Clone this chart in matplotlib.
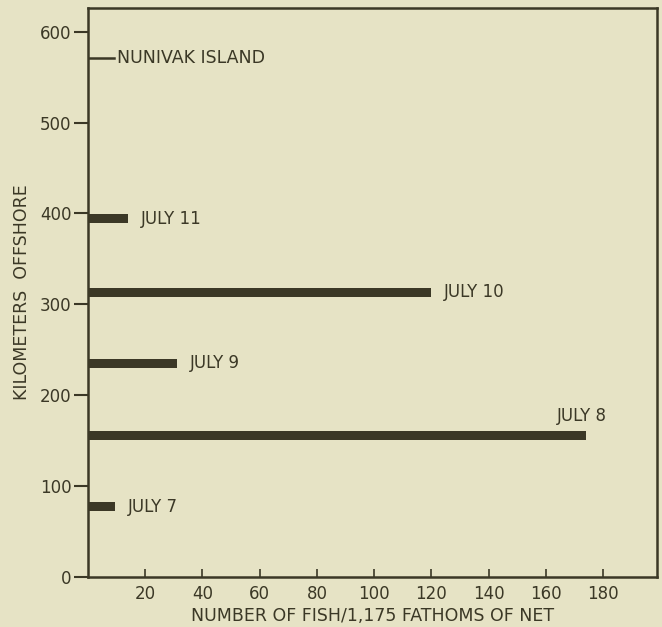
import matplotlib
matplotlib.use('Agg')
import matplotlib.pyplot as plt

# catch per 1,175 fathoms of net by station distance offshore
dates = ['JULY 7', 'JULY 8', 'JULY 9', 'JULY 10', 'JULY 11']
km_offshore = [77, 156, 235, 313, 394]
fish = [9.5, 174, 31, 120, 14]

island_km = 571
island_name = 'NUNIVAK ISLAND'

x_ticks = [20, 40, 60, 80, 100, 120, 140, 160, 180]
y_ticks = [0, 100, 200, 300, 400, 500, 600]

ink = '#3b3826'
paper = '#e6e3c5'


def main():
    plt.rcParams['font.family'] = 'DejaVu Sans'
    fig = plt.figure(figsize=(6.62, 6.27), dpi=100, facecolor=paper)
    ax = fig.add_axes([0.133, 0.080, 0.860, 0.907])
    ax.set_facecolor(paper)

    ax.barh(km_offshore, fish, height=10, color=ink, left=0)

    # labels next to the bars
    for d, y, v in zip(dates, km_offshore, fish):
        if d == 'JULY 8':
            ax.text(v + 7.5, y + 11, d, ha='right', va='bottom', fontsize=12, color=ink)
        else:
            ax.text(v + 4.5, y, d, ha='left', va='center', fontsize=12, color=ink)

    ax.plot([0, 9], [island_km, island_km], color=ink, linewidth=1.8)
    ax.text(10, island_km, island_name, ha='left', va='center', fontsize=12.5, color=ink)

    ax.set_xlim(0, 199)
    ax.set_ylim(0, 626)
    ax.set_xticks(x_ticks)
    ax.set_xticklabels([str(t) for t in x_ticks])
    ax.set_yticks(y_ticks)
    ax.set_yticklabels([str(t) for t in y_ticks])

    ax.tick_params(axis='x', direction='in', length=6, width=1.2, color=ink,
                   labelcolor=ink, labelsize=12, pad=6)
    ax.tick_params(axis='y', direction='out', length=10, width=1.5, color=ink,
                   labelcolor=ink, labelsize=12, pad=2)
    for s in ax.spines.values():
        s.set_color(ink)
        s.set_linewidth(1.8)

    ax.set_xlabel('NUMBER OF FISH/1,175 FATHOMS OF NET', fontsize=12.5, color=ink, labelpad=3)
    ax.set_ylabel('KILOMETERS  OFFSHORE', fontsize=12.5, color=ink, labelpad=6)

    fig.savefig('out.png', dpi=100, facecolor=paper)


if __name__ == '__main__':
    main()
